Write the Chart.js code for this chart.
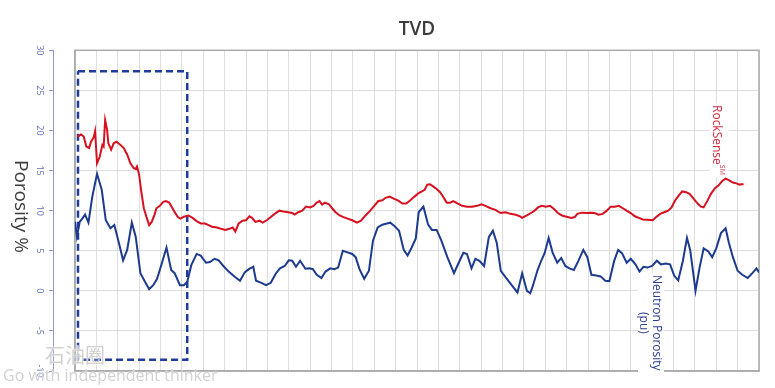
<!DOCTYPE html>
<html>
<head>
<meta charset="utf-8">
<script src="https://cdn.jsdelivr.net/npm/chart.js@4.4.1/dist/chart.umd.min.js"></script>
<style>
  body { margin: 0; background: #fff; }
  #wrap { position: relative; width: 775px; height: 388px; }
  .vlabel { position: absolute; writing-mode: vertical-rl; font-family: "Open Sans", sans-serif; white-space: nowrap; }
  .vlabel sup { font-size: 7px; }
  .mark { position: absolute; color: #d2d2d2; white-space: nowrap; text-shadow: 0 0 2px #fff; }
</style>
</head>
<body>
<div id="wrap">
  <canvas id="porosityCanvas"></canvas>
  <div class="vlabel" style="left:12px; top:160px; font-size:19px; line-height:20px; color:#3a3a3a;">Porosity %</div>
  <div class="vlabel" style="left:710px; top:103px; font-size:12px; line-height:14px; color:#d42a40; background:#fff; padding:2px 0;">RockSense<sup>SM</sup></div>
  <div class="vlabel" style="left:638px; top:273px; font-size:12px; line-height:13px; color:#2b3f90; background:#fff; text-align:center; padding:2px 0;">Neutron Porosity<br>(pu)</div>
  <div class="mark" style="left:45px; top:340px; font-size:20px; font-family:'Noto Sans CJK SC';">石油圈</div>
  <div class="mark" style="left:3px; top:364px; font-size:16px; font-family:'Open Sans';">Go with independent thinker</div>
</div>
<script>
/* depth position counted in grid columns (0 - 32), porosity in % */
var rockDepth = [0.12, 0.28, 0.41, 0.53, 0.66, 0.75, 0.88, 0.94, 1.03, 1.16, 1.28, 1.34, 1.41, 1.5, 1.56, 1.69, 1.81, 1.94,
    2.13, 2.28, 2.44, 2.59, 2.75, 2.84, 2.9, 3.0, 3.09, 3.22, 3.34, 3.47, 3.59, 3.72, 3.81, 3.97, 4.13, 4.25, 4.41, 4.56,
    4.69, 4.81, 4.94, 5.09, 5.31, 5.5, 5.69, 5.88, 6.09, 6.25, 6.41, 6.64, 6.88, 7.03, 7.19, 7.38, 7.5, 7.66, 7.84, 8.0,
    8.16, 8.28, 8.44, 8.63, 8.78, 8.97, 9.16, 9.34, 9.56, 9.75, 9.97, 10.16, 10.28, 10.44, 10.63, 10.81, 11.0, 11.16,
    11.31, 11.44, 11.56, 11.69, 11.88, 12.03, 12.19, 12.38, 12.56, 12.75, 12.97, 13.19, 13.38, 13.59, 13.81, 14.0, 14.19,
    14.38, 14.53, 14.72, 14.91, 15.13, 15.31, 15.5, 15.69, 15.88, 16.08, 16.23, 16.36, 16.48, 16.61, 16.77, 16.92, 17.08,
    17.23, 17.39, 17.55, 17.7, 17.89, 18.11, 18.34, 18.58, 18.81, 19.02, 19.2, 19.44, 19.67, 19.91, 20.14, 20.38, 20.61,
    20.8, 20.92, 21.14, 21.39, 21.5, 21.66, 21.84, 22.03, 22.22, 22.41, 22.59, 22.78, 23.0, 23.22, 23.38, 23.5, 23.72,
    23.94, 24.13, 24.31, 24.5, 24.69, 24.88, 25.06, 25.25, 25.44, 25.63, 25.81, 26.0, 26.19, 26.38, 26.56, 26.78, 27.03,
    27.19, 27.38, 27.56, 27.75, 27.91, 28.06, 28.25, 28.41, 28.59, 28.75, 28.91, 29.09, 29.28, 29.41, 29.59, 29.75, 29.94,
    30.09, 30.28, 30.44, 30.63, 30.78, 30.94, 31.09, 31.19, 31.28];
var rockPorosity = [19.2, 19.5, 19.25, 18.0, 17.8, 18.6, 19.2, 19.9, 15.9, 16.75, 18.2, 18.0, 21.3, 20.1, 18.4, 17.6, 18.4, 18.6,
    18.2, 17.8, 17.0, 15.9, 15.3, 15.2, 15.5, 14.5, 12.6, 10.3, 9.25, 8.2, 8.6, 9.5, 10.3, 10.6, 11.1, 11.2, 11.0, 10.3,
    9.7, 9.2, 9.0, 9.25, 9.4, 9.1, 8.7, 8.4, 8.4, 8.2, 8.0, 7.9, 7.7, 7.6, 7.7, 7.9, 7.4, 8.4, 8.75, 8.8,
    9.3, 9.1, 8.6, 8.75, 8.5, 8.8, 9.2, 9.6, 10.0, 9.9, 9.8, 9.7, 9.5, 9.8, 10.0, 10.5, 10.4, 10.6,
    11.0, 11.2, 10.75, 11.0, 10.8, 10.3, 9.8, 9.4, 9.2, 9.0, 8.8, 8.5, 8.75, 9.4, 10.0, 10.6, 11.2,
    11.3, 11.6, 11.75, 11.5, 11.25, 10.9, 10.9, 11.3, 11.75, 12.2, 12.4, 12.6, 13.25, 13.3, 13.0, 12.7, 12.3,
    11.7, 11.0, 11.0, 11.2, 10.9, 10.6, 10.5, 10.5, 10.6, 10.8, 10.6, 10.3, 10.1, 9.7, 9.8, 9.6, 9.5,
    9.3, 9.1, 9.4, 9.8, 10.0, 10.4, 10.6, 10.5, 10.6, 10.2, 9.7, 9.4, 9.25, 9.1, 9.2, 9.6, 9.75,
    9.7, 9.75, 9.7, 9.5, 9.6, 10.0, 10.5, 10.5, 10.6, 10.3, 10.0, 9.7, 9.3, 9.1, 8.9, 8.85, 8.8,
    9.2, 9.6, 9.8, 10.0, 10.4, 11.2, 11.9, 12.4, 12.3, 12.1, 11.6, 11.0, 10.5, 10.4, 11.25, 12.1, 12.8,
    13.1, 13.7, 14.0, 13.75, 13.5, 13.4, 13.25, 13.3, 13.3];

var neutronDepth = [0, 0.09, 0.22, 0.34, 0.47, 0.63, 0.81, 1.03, 1.25, 1.44, 1.66, 1.84, 2.06, 2.25, 2.44, 2.66, 2.84,
    3.06, 3.28, 3.47, 3.66, 3.84, 4.06, 4.28, 4.5, 4.66, 4.91, 5.09, 5.25, 5.44, 5.69, 5.88, 6.13, 6.31, 6.53, 6.72,
    6.94, 7.19, 7.47, 7.72, 7.94, 8.13, 8.34, 8.47, 8.72, 8.94, 9.16, 9.38, 9.59, 9.81, 10.0, 10.16, 10.34, 10.53,
    10.78, 10.97, 11.13, 11.31, 11.53, 11.72, 11.94, 12.13, 12.31, 12.53, 12.75, 12.97, 13.13, 13.31, 13.53, 13.75,
    13.94, 14.16, 14.38, 14.59, 14.75, 14.94, 15.16, 15.38, 15.56, 15.75, 15.94, 16.08, 16.3, 16.52, 16.7, 16.92,
    17.14, 17.42, 17.73, 17.95, 18.17, 18.34, 18.55, 18.73, 18.92, 19.14, 19.36, 19.55, 19.73, 19.92, 20.14, 20.42,
    20.7, 20.92, 21.14, 21.3, 21.44, 21.63, 21.81, 21.97, 22.16, 22.34, 22.56, 22.75, 22.94, 23.13, 23.34, 23.56,
    23.78, 23.97, 24.16, 24.38, 24.59, 24.81, 25.0, 25.22, 25.41, 25.59, 25.81, 26.0, 26.22, 26.41, 26.59, 26.78,
    27.0, 27.22, 27.41, 27.63, 27.84, 28.03, 28.22, 28.44, 28.63, 28.78, 28.91, 29.03, 29.22, 29.41, 29.63, 29.81,
    30.0, 30.22, 30.44, 30.59, 30.78, 31.0, 31.22, 31.47, 31.69, 31.88, 32.0];
var neutronPorosity = [8.6, 6.75, 8.6, 9.0, 9.5, 8.5, 11.75, 14.6, 12.6, 8.8, 7.8, 8.2, 5.9, 3.8, 5.1, 8.5, 6.75,
    2.2, 1.1, 0.2, 0.7, 1.5, 3.4, 5.4, 2.6, 2.2, 0.7, 0.7, 1.1, 3.2, 4.6, 4.4, 3.5, 3.6, 4.0, 3.8,
    3.1, 2.4, 1.75, 1.25, 2.3, 2.7, 3.0, 1.25, 1.0, 0.7, 1.0, 2.1, 2.8, 3.1, 3.8, 3.75, 3.0, 3.75,
    2.75, 2.8, 2.7, 2.0, 1.6, 2.4, 2.8, 2.7, 2.9, 5.0, 4.8, 4.6, 4.2, 2.7, 1.5, 2.5,
    6.25, 7.9, 8.25, 8.4, 8.5, 8.1, 7.5, 5.1, 4.4, 5.4, 6.5, 9.8, 10.5, 8.25, 7.6, 7.6,
    6.25, 4.2, 2.2, 3.5, 4.75, 4.6, 2.8, 4.0, 3.75, 3.1, 6.7, 7.5, 6.0, 2.5, 1.7, 0.75,
    -0.2, 2.2, 0.0, -0.3, 0.8, 2.5, 3.75, 4.7, 6.6, 4.8, 3.5, 4.1, 3.1, 2.8, 2.6, 3.8,
    5.1, 4.2, 2.0, 1.9, 1.8, 1.25, 1.2, 3.7, 5.1, 4.7, 3.5, 4.0, 3.3, 2.4, 3.0, 2.9,
    3.1, 3.75, 3.3, 3.4, 3.3, 1.9, 1.3, 3.75, 6.6, 5.1, 2.5, 0.0, 2.9, 5.3, 4.9, 4.2,
    5.3, 7.2, 7.8, 6.0, 4.2, 2.5, 2.0, 1.6, 2.2, 2.8, 2.3];

/* dashed highlight box corners */
var boxDepth = [0.14, 5.25, 5.25, 0.14, 0.14];
var boxPorosity = [27.4, 27.4, -8.6, -8.6, 27.4];

var yMin = -10;
var yMax = 30;
var yStep = 5;

function toPoints(xs, ys) {
    var pts = [];
    for (var i = 0; i < xs.length; i++) {
        pts.push({x: xs[i], y: ys[i]});
    }
    return pts;
}

/* grey frame round the plot area */
var plotFrame = {
    id: 'plotFrame',
    beforeDatasetsDraw: function(chart) {
        var a = chart.chartArea;
        var ctx = chart.ctx;
        ctx.save();
        ctx.strokeStyle = '#ababab';
        ctx.lineWidth = 1.5;
        ctx.strokeRect(a.left, a.top, a.right - a.left, a.bottom - a.top);
        ctx.restore();
    }
};

Chart.defaults.font.family = '"Open Sans", sans-serif';

var ctx = document.getElementById('porosityCanvas').getContext('2d');
var chart = new Chart(ctx, {
    type: 'line',
    data: {
        datasets: [{
            label: 'RockSense',
            data: toPoints(rockDepth, rockPorosity),
            borderColor: '#d7101f',
            borderWidth: 2,
            pointRadius: 0,
            fill: false
        }, {
            label: 'Neutron Porosity (pu)',
            data: toPoints(neutronDepth, neutronPorosity),
            borderColor: '#1c3a8e',
            borderWidth: 2,
            pointRadius: 0,
            fill: false
        }, {
            label: 'box',
            data: toPoints(boxDepth, boxPorosity),
            borderColor: '#1f3c9c',
            borderWidth: 2.5,
            borderDash: [7, 4],
            pointRadius: 0,
            fill: false
        }]
    },
    options: {
        responsive: true,
        maintainAspectRatio: false,
        animation: false,
        layout: { padding: { left: 0, right: 16, top: 0, bottom: 17 } },
        plugins: {
            legend: { display: false },
            tooltip: { enabled: false },
            title: {
                display: true,
                text: 'TVD',
                fullSize: false,
                color: '#3c3c3c',
                font: { size: 19, weight: '600' },
                padding: { top: 18, bottom: 9.5 }
            }
        },
        scales: {
            x: {
                type: 'linear',
                min: 0,
                max: 32,
                ticks: { display: false, stepSize: 1 },
                grid: { color: '#dedede', drawTicks: false },
                border: { color: '#ababab', width: 1.5 },
                afterFit: function(scale) { scale.height = 0; }
            },
            y: {
                position: 'left',
                weight: 0,
                min: yMin,
                max: yMax,
                ticks: { display: false, stepSize: yStep },
                grid: { color: '#dedede', drawTicks: false },
                border: { color: '#ababab', width: 1.5 },
                afterFit: function(scale) { scale.width = 22; }
            },
            yAxis: {
                position: 'left',
                weight: 1,
                min: yMin,
                max: yMax,
                ticks: {
                    stepSize: yStep,
                    minRotation: -90,
                    crossAlign: 'center',
                    padding: 3,
                    color: '#5b6bb0',
                    font: { size: 9 }
                },
                grid: { drawOnChartArea: false, tickLength: 4, color: '#8c9bd0' },
                border: { color: '#8c9bd0', width: 1 },
                afterFit: function(scale) { scale.width = 53; }
            }
        }
    },
    plugins: [plotFrame]
});
</script>
</body>
</html>
